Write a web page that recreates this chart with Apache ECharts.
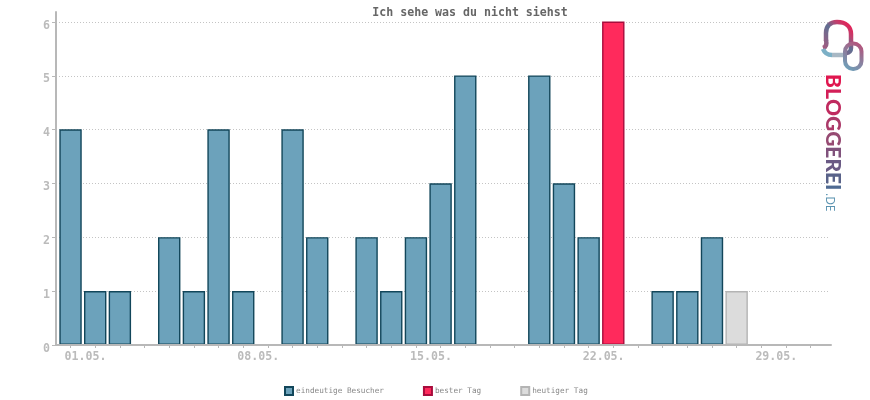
<!DOCTYPE html>
<html><head><meta charset="utf-8">
<style>html,body{margin:0;padding:0;background:#fff}#c{width:870px;height:400px}</style>
<script src="https://cdn.jsdelivr.net/npm/echarts@6/dist/echarts.min.js"></script>
</head><body><div id="c"></div>
<script>
const chartTitle = 'Ich sehe was du nicht siehst';
const days = ['01.05.','02.05.','03.05.','04.05.','05.05.','06.05.','07.05.','08.05.','09.05.','10.05.','11.05.','12.05.','13.05.','14.05.','15.05.','16.05.','17.05.','18.05.','19.05.','20.05.','21.05.','22.05.','23.05.','24.05.','25.05.','26.05.','27.05.','28.05.','29.05.','30.05.','31.05.'];
const visitors = [4,1,1,0,2,1,4,1,0,4,2,0,2,1,2,3,5,0,0,5,3,2,null,0,1,1,2,null,0,0,0];
const bestDay  = [null,null,null,null,null,null,null,null,null,null,null,null,null,null,null,null,null,null,null,null,null,null,6,null,null,null,null,null,null,null,null];
const today    = [null,null,null,null,null,null,null,null,null,null,null,null,null,null,null,null,null,null,null,null,null,null,null,null,null,null,null,1,null,null,null];
const logoLetters = ['B','L','O','G','G','E','R','E','I'];
const logoColors = ['#e0174f','#d31f58','#c02a5f','#ab3a69','#964a72','#80527c','#6a5a84','#596289','#4f6a92'];
const grey = '#b8b8b8';
const mono = '"DejaVu Sans Mono"';
const chart = echarts.init(document.getElementById('c'), null, {renderer:'canvas'});
const bar = (name, data, color, border) => ({
  name, type:'bar', data, xAxisIndex:2, yAxisIndex:2, stack:'d', barWidth:22.4,
  itemStyle:{color, borderColor:border, borderWidth:1.4}, z:2
});
const hiddenPart = {axisLine:{show:false},axisTick:{show:false},axisLabel:{show:false},splitLine:{show:false}};
const archGrad = {type:'linear',x:824,y:50,x2:852,y2:22,global:true,colorStops:[{offset:0,color:'#a85a80'},{offset:.5,color:'#5f6f92'},{offset:.72,color:'#c0406e'},{offset:1,color:'#f5124c'}]};
const curve = (x1,y1,cpx1,cpy1,cpx2,cpy2,x2,y2,stroke) => ({type:'bezierCurve',z:10,shape:{x1,y1,cpx1,cpy1,cpx2,cpy2,x2,y2},style:{fill:null,lineWidth:4.5,stroke}});
const logoRich = {};
logoLetters.forEach((l,i)=>{logoRich['l'+i]={fill:logoColors[i],fontFamily:'Lato',fontWeight:900,fontSize:21};});
chart.setOption({
  animation:false,
  backgroundColor:'#fff',
  title:{text:chartTitle,left:465,top:2,textAlign:'center',
    textStyle:{fontFamily:mono,fontSize:11.6,fontWeight:'bold',color:'#666'}},
  legend:{left:284,top:386,padding:0,itemWidth:8,itemHeight:8,itemGap:39,icon:'rect',
    textStyle:{fontFamily:mono,fontSize:7.7,color:'#888',padding:[0,0,0,-2]},
    data:['eindeutige Besucher',{name:'bester Tag',textStyle:{padding:[0,3,0,-2]}},'heutiger Tag']},
  grid:[
    {left:56,top:12,width:775,height:333},
    {left:56,top:22,width:773,height:323},
    {left:58.2,top:21.5,width:764.8,height:323.5}
  ],
  xAxis:[
    {gridIndex:0,type:'value',min:0,max:1,...hiddenPart,axisLine:{show:true,lineStyle:{color:grey,width:2}},z:5},
    {gridIndex:1,type:'value',min:0,max:1,...hiddenPart},
    {gridIndex:2,type:'category',data:days,boundaryGap:true,
      axisLine:{show:false},
      axisTick:{show:true,alignWithLabel:true,interval:0,length:3,lineStyle:{color:grey}},
      axisLabel:{interval:6,margin:6,padding:[0,0,0,30],fontFamily:mono,fontSize:11.6,fontWeight:'bold',color:'#bbb'}}
  ],
  yAxis:[
    {gridIndex:0,type:'value',min:0,max:1,...hiddenPart,axisLine:{show:true,lineStyle:{color:grey,width:2}},z:5},
    {gridIndex:1,type:'value',min:0,max:6,interval:1,
      axisLine:{show:false},
      axisTick:{show:true,length:4,lineStyle:{color:grey}},
      axisLabel:{margin:6,verticalAlign:'top',lineHeight:7,fontFamily:mono,fontSize:11.6,fontWeight:'bold',color:'#bbb'},
      splitLine:{show:true,lineStyle:{color:'#c4c4c4',type:[1,2],width:1}}},
    {gridIndex:2,type:'value',min:0,max:6,...hiddenPart}
  ],
  series:[
    bar('eindeutige Besucher',visitors,'#6ca2bb','#12465a'),
    bar('bester Tag',bestDay,'#ff2a5c','#a80c3c'),
    bar('heutiger Tag',today,'#dcdcdc','#b4b4b4')
  ],
  graphic:[
    curve(823,48,826,47,827,44,826,40,archGrad),
    curve(826,41,826,38,826,36,826,33,archGrad),
    curve(826,33,826,26,830,22,837,22,archGrad),
    curve(837,22,846,22,851,27,851,34,archGrad),
    curve(851,34,851,38,851,44,851,48,archGrad),
    curve(851,48,851,51,849,53,847,53,archGrad),
    curve(823,49,825,54,828,55,832,55,'#7cb0c6'),
    curve(832,55,836,55,841,55,845,55,'#a8b8c4'),
    {type:'rect',z:10,shape:{x:845,y:43.5,width:16.5,height:25.5,r:8},
      style:{fill:null,lineWidth:4,stroke:{type:'linear',x:845,y:69,x2:862,y2:44,global:true,colorStops:[{offset:0,color:'#6ca2bb'},{offset:.55,color:'#8f7a9a'},{offset:1,color:'#b84f78'}]}}},
    {type:'text',z:10,x:822,y:74,rotation:-Math.PI/2,
      style:{text:logoLetters.map((l,i)=>'{l'+i+'|'+l+'}').join(''),rich:logoRich,
        fontFamily:'Lato',fontWeight:900,fontSize:21,textAlign:'left',textVerticalAlign:'bottom'}},
    {type:'text',z:10,x:823,y:193,rotation:-Math.PI/2,
      style:{text:'.DE',fontFamily:'Open Sans',fontSize:12,textAlign:'left',textVerticalAlign:'bottom',fill:'#5a93b0'}}
  ]
});
</script></body></html>
